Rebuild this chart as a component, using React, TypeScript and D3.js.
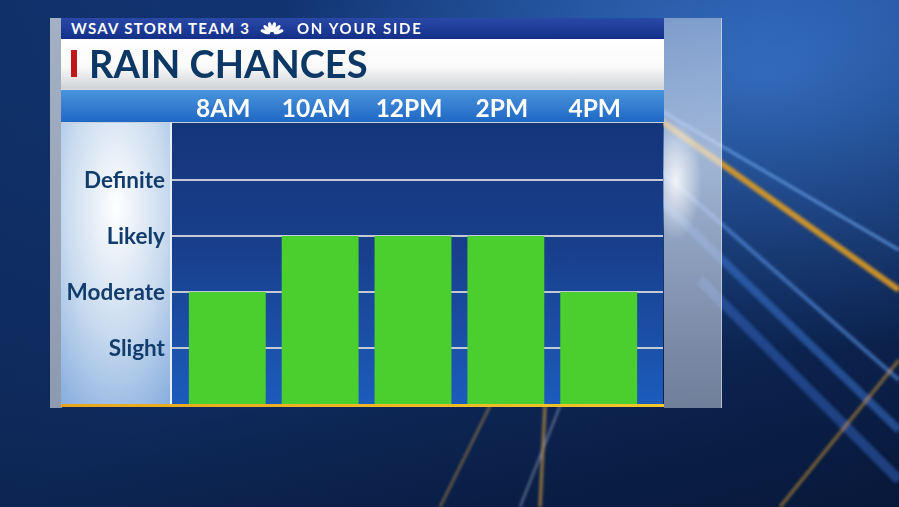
import React from "react";
import * as d3 from "d3";

const categories = ["8AM", "10AM", "12PM", "2PM", "4PM"];
const levels = [2, 3, 3, 3, 2];
const levelLabels = ["Slight", "Moderate", "Likely", "Definite"];
const levelValues = [1, 2, 3, 4];

const W = 899;
const H = 507;

export default function App() {
  const plotL = 172, plotR = 663, plotT = 123, plotB = 404;
  const x = d3.scaleBand<string>().domain(categories).range([180.5, 645.5]).paddingInner(0.172).paddingOuter(0.09);
  const y = d3.scaleLinear().domain([0, 4]).range([plotB, 180]);
  const font = "Lato, 'Open Sans', sans-serif";
  const beams = [
    { x1: 660, y1: 120, x2: 899, y2: 290, c: "#e8a020", w: 6, o: 0.85 },
    { x1: 660, y1: 110, x2: 899, y2: 250, c: "#6fa8f0", w: 3, o: 0.7 },
    { x1: 660, y1: 170, x2: 899, y2: 380, c: "#5a94e8", w: 4, o: 0.6 },
    { x1: 660, y1: 200, x2: 899, y2: 430, c: "#3f7ad8", w: 8, o: 0.5 },
    { x1: 700, y1: 280, x2: 899, y2: 480, c: "#3a6fd0", w: 10, o: 0.45 },
    { x1: 780, y1: 507, x2: 899, y2: 360, c: "#d49a30", w: 3, o: 0.6 },
    { x1: 520, y1: 507, x2: 560, y2: 406, c: "#c7d3e8", w: 2, o: 0.5 },
    { x1: 540, y1: 507, x2: 545, y2: 406, c: "#d9a040", w: 3, o: 0.7 },
    { x1: 440, y1: 507, x2: 490, y2: 406, c: "#d9a040", w: 2, o: 0.6 },
  ];
  return (
    <svg width={W} height={H} style={{ position: "absolute", left: 0, top: 0 }}>
      <defs>
        <linearGradient id="bg" x1="0" y1="0" x2="1" y2="1">
          <stop offset="0" stopColor="#10306a" />
          <stop offset="0.5" stopColor="#143c80" />
          <stop offset="1" stopColor="#0a1f4a" />
        </linearGradient>
        <radialGradient id="glowTR" cx="0.85" cy="0.15" r="0.55">
          <stop offset="0" stopColor="#3f7fd8" stopOpacity="0.8" />
          <stop offset="1" stopColor="#3f7fd8" stopOpacity="0" />
        </radialGradient>
        <linearGradient id="bottomDark" x1="0" y1="0" x2="0" y2="1">
          <stop offset="0" stopColor="#0a1a3a" stopOpacity="0" />
          <stop offset="1" stopColor="#06122c" stopOpacity="0.55" />
        </linearGradient>
        <linearGradient id="hdr" x1="0" y1="0" x2="0" y2="1">
          <stop offset="0" stopColor="#2a49a8" />
          <stop offset="1" stopColor="#132f88" />
        </linearGradient>
        <linearGradient id="title" x1="0" y1="0" x2="0" y2="1">
          <stop offset="0" stopColor="#ffffff" />
          <stop offset="0.55" stopColor="#fafafa" />
          <stop offset="1" stopColor="#cfd2d6" />
        </linearGradient>
        <linearGradient id="cat" x1="0" y1="0" x2="0" y2="1">
          <stop offset="0" stopColor="#4c95de" />
          <stop offset="1" stopColor="#1f68c4" />
        </linearGradient>
        <radialGradient id="leftPanel" cx="0.5" cy="0.3" r="0.9">
          <stop offset="0" stopColor="#ffffff" />
          <stop offset="0.5" stopColor="#c9dbef" />
          <stop offset="1" stopColor="#7fa8dc" />
        </radialGradient>
        <linearGradient id="plot" x1="0" y1="0" x2="0" y2="1">
          <stop offset="0" stopColor="#15357a" />
          <stop offset="0.45" stopColor="#183f8c" />
          <stop offset="1" stopColor="#1c5cbc" />
        </linearGradient>
        <linearGradient id="glass" x1="0" y1="0" x2="0" y2="1">
          <stop offset="0" stopColor="#c2cee2" stopOpacity="0.55" />
          <stop offset="0.35" stopColor="#e4ebf6" stopOpacity="0.65" />
          <stop offset="1" stopColor="#b4bfd0" stopOpacity="0.6" />
        </linearGradient>
        <linearGradient id="glassL" x1="0" y1="0" x2="0" y2="1">
          <stop offset="0" stopColor="#c9d0da" stopOpacity="0.8" />
          <stop offset="1" stopColor="#aeb6c2" stopOpacity="0.8" />
        </linearGradient>
        <linearGradient id="base" x1="0" y1="0" x2="1" y2="0">
          <stop offset="0" stopColor="#e8a51c" />
          <stop offset="1" stopColor="#f2c82a" />
        </linearGradient>
        <radialGradient id="flare" cx="0.5" cy="0.5" r="0.5">
          <stop offset="0" stopColor="#ffffff" stopOpacity="0.85" />
          <stop offset="1" stopColor="#ffffff" stopOpacity="0" />
        </radialGradient>
        <filter id="blur"><feGaussianBlur stdDeviation="1.5" /></filter>
      </defs>

      {/* background */}
      <rect width={W} height={H} fill="url(#bg)" />
      <rect width={W} height={H} fill="url(#glowTR)" />
      <rect width={W} height={H} fill="url(#bottomDark)" />
      <g filter="url(#blur)">
        {beams.map((b, i) => (
          <line key={i} x1={b.x1} y1={b.y1} x2={b.x2} y2={b.y2} stroke={b.c} strokeWidth={b.w} opacity={b.o} />
        ))}
      </g>

      {/* glass frame */}
      <rect x={50} y={18} width={12} height={390} fill="url(#glassL)" />
      <rect x={664} y={18} width={58} height={390} fill="url(#glass)" />
      <line x1={721.5} x2={721.5} y1={18} y2={408} stroke="#dfe6f0" strokeOpacity={0.6} />
      <ellipse cx={676} cy={180} rx={26} ry={60} fill="url(#flare)" />

      {/* header strip */}
      <rect x={61} y={18} width={603} height={21} fill="url(#hdr)" />
      <text x={71} y={33.5} fill="#ffffff" fontFamily={font} fontWeight={700} fontSize={15} letterSpacing={1.3}>
        WSAV STORM TEAM 3
      </text>
      <g transform="translate(272,34)" fill="#ffffff">
        {[-72, -43, -14, 14, 43, 72].map((a, i) => (
          <ellipse key={i} cx={0} cy={-7} rx={1.9} ry={5} transform={`rotate(${a})`} />
        ))}
      </g>
      <text x={297} y={33.5} fill="#ffffff" fontFamily={font} fontWeight={700} fontSize={15} letterSpacing={1.7}>
        ON YOUR SIDE
      </text>

      {/* title strip */}
      <rect x={61} y={39} width={603} height={50} fill="url(#title)" />
      <rect x={71} y={50} width={6} height={27} fill="#c0161c" />
      <text x={89} y={78} fill="#0d3866" fontFamily={font} fontWeight={700} fontSize={38}>
        RAIN CHANCES
      </text>

      {/* category strip */}
      <rect x={61} y={89} width={603} height={33} fill="url(#cat)" />
      <line x1={61} x2={664} y1={89.5} y2={89.5} stroke="#d8dde4" strokeWidth={1} />
      {categories.map((c) => (
        <text key={c} x={(x(c) as number) + x.bandwidth() / 2 - 4} y={116.5} textAnchor="middle" fill="#ffffff"
          fontFamily={font} fontWeight={700} fontSize={24.5}>
          {c}
        </text>
      ))}
      <line x1={61} x2={664} y1={122.5} y2={122.5} stroke="#c8d0dc" strokeWidth={1} />

      {/* left label panel */}
      <rect x={61} y={123} width={110} height={281} fill="url(#leftPanel)" />
      <line x1={171} x2={171} y1={123} y2={404} stroke="#e8eef6" strokeWidth={2} />

      {/* plot */}
      <rect x={plotL} y={plotT} width={plotR - plotL} height={plotB - plotT} fill="url(#plot)" />
      {levelValues.map((v) => (
        <line key={v} x1={plotL} x2={plotR} y1={y(v)} y2={y(v)} stroke="#c3cad6" strokeWidth={2} />
      ))}
      {categories.map((c, i) => (
        <rect key={c} x={x(c)} y={y(levels[i])} width={x.bandwidth()} height={plotB - y(levels[i])} fill="#4bcf2f" />
      ))}
      {levelValues.map((v, i) => (
        <text key={v} x={165} y={y(v) + 8} textAnchor="end" fill="#123c6c" fontFamily={font} fontWeight={700} fontSize={22.5}>
          {levelLabels[i]}
        </text>
      ))}
      <rect x={61} y={404} width={603} height={3} fill="url(#base)" />
    </svg>
  );
}
